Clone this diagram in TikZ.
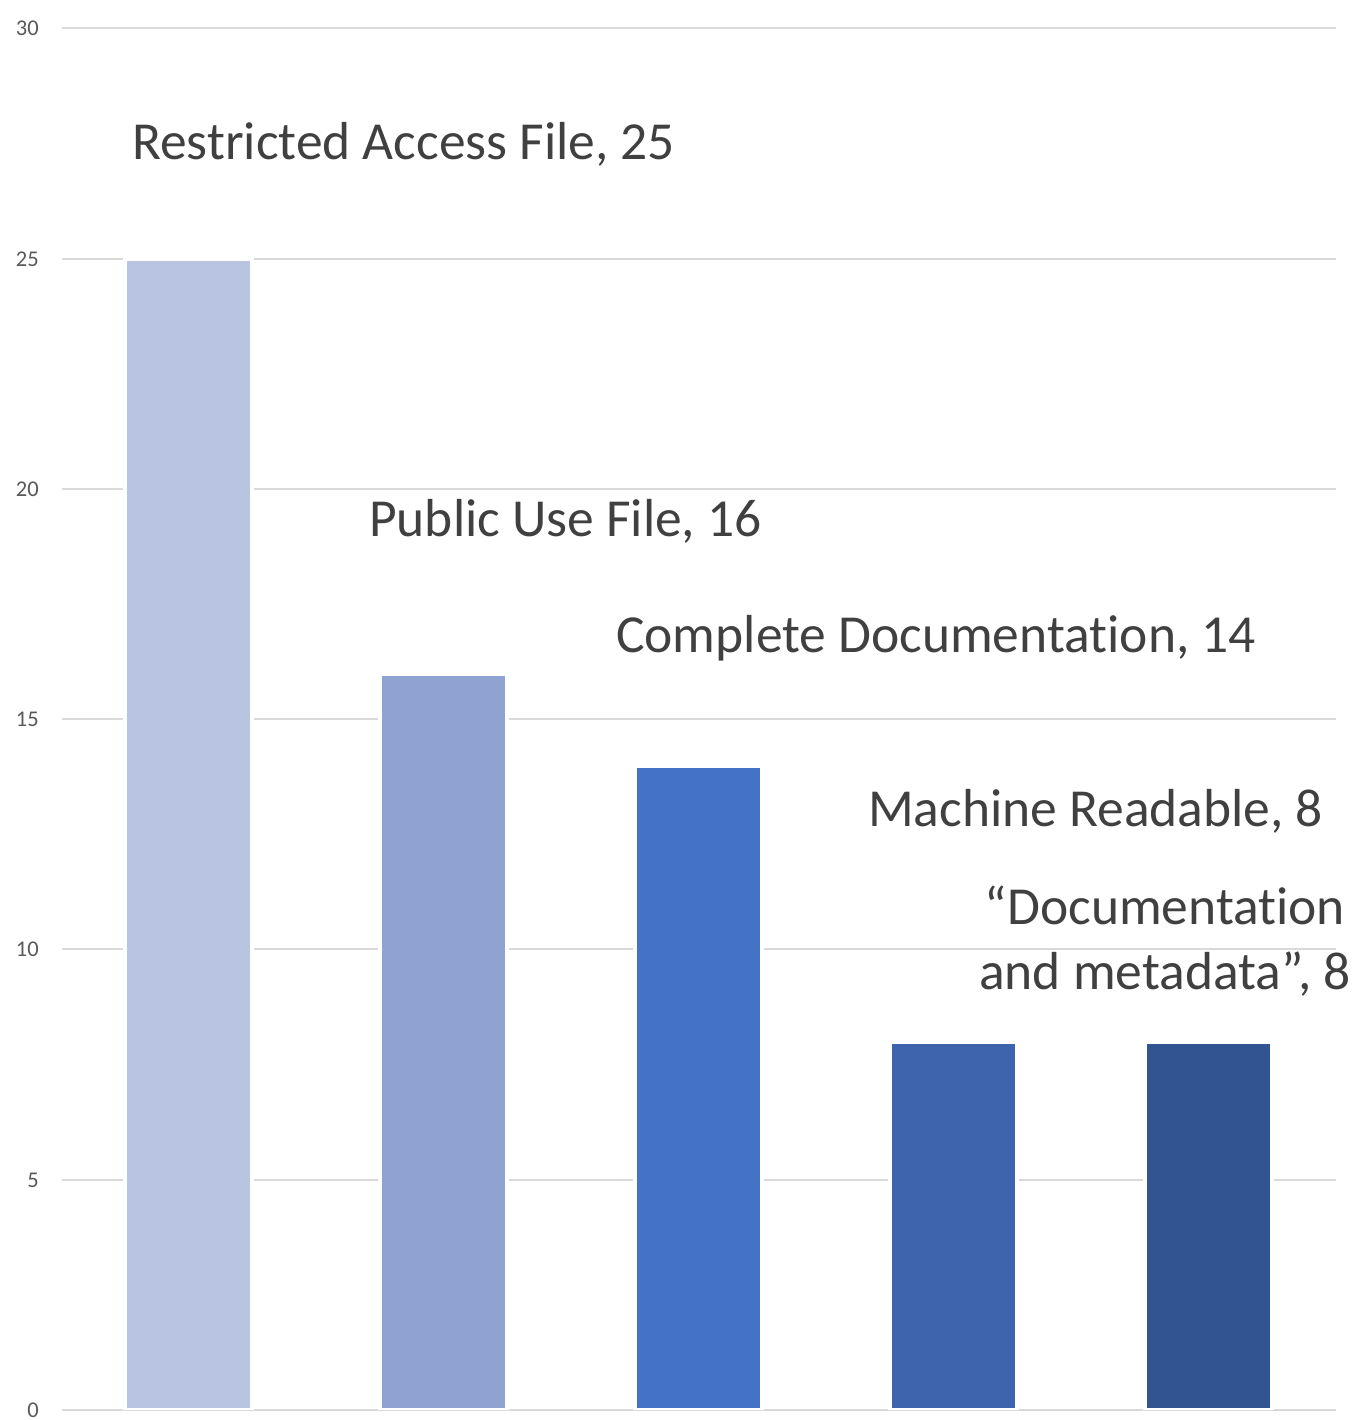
\documentclass[tikz,border=0pt]{standalone}
\usepackage{fontspec}
\setmainfont[RawFeature={-liga;-clig;-dlig}]{Carlito}
\newcommand{\tI}{t\kern0pt i}
\definecolor{gridc}{HTML}{D9D9D9}
\definecolor{axisc}{HTML}{595959}
\definecolor{labc}{HTML}{404040}
\definecolor{barA}{HTML}{B9C3E2}
\definecolor{barB}{HTML}{8FA3D3}
\definecolor{barC}{HTML}{4472C4}
\definecolor{barD}{HTML}{3D64AC}
\definecolor{barE}{HTML}{325490}
\begin{document}
\begin{tikzpicture}[x=1pt,y=-1pt,
  gridline/.style={draw=gridc,line width=2pt},
  ticklab/.style={anchor=east,inner sep=0pt,text=axisc,font=\fontsize{22.5pt}{27pt}\selectfont},
  datalab/.style={inner sep=0pt,text=labc,font=\fontsize{53.5pt}{64pt}\selectfont},
]
\useasboundingbox[fill=white] (0,0) rectangle (1358,1420);
% gridlines and tick labels
\foreach \v/\yy in {0/1410,5/1180,10/949,15/719,20/489,25/259,30/28}{
  \draw[gridline] (62,\yy) -- (1336,\yy);
  \node[ticklab] (t\v) at (39,\yy) {\v};
}
% bars
\foreach \n/\x/\v/\c in {1/127/25/barA,2/382/16/barB,3/637/14/barC,4/892/8/barD,5/1147/8/barE}{
  \pgfmathsetmacro{\top}{1413-46.07*\v}
  \fill[white] (\x-4,\top-4) rectangle (\x+127,1410);
  \fill[\c] (\x,\top) rectangle (\x+123,1408);
  \coordinate (bar\n) at (\x+61.5,\top);
}
% data labels
\node[datalab,anchor=base west] (l1) at (132,160) {Restricted Access File, 25};
\node[datalab,anchor=base west] (l2) at (369,536) {Public Use File, 16};
\node[datalab,anchor=base west] (l3) at (616,652) {Complete Documenta\tI on, 14};
\node[datalab,anchor=base west] (l4) at (868,826) {Machine Readable, 8};
\node[datalab,anchor=base] (l5a) at (1165,924) {“Documenta\tI on};
\node[datalab,anchor=base] (l5b) at (1165,989) {and metadata”, 8};
\end{tikzpicture}
\end{document}
